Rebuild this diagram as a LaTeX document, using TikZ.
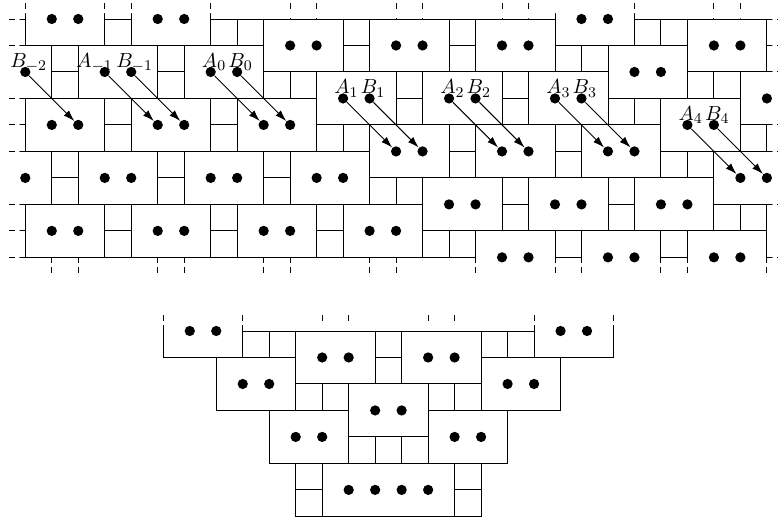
\documentclass[tikz,border=0pt]{standalone}
\usetikzlibrary{arrows.meta}
\begin{document}
\begin{tikzpicture}[x=0.5cm,y=-0.5cm,line width=0.5pt]
\tikzstyle{dot}=[circle,fill,inner sep=0pt,minimum size=5.5pt]
\tikzstyle{lbl}=[anchor=base,inner sep=0pt,font=\fontsize{11}{13}\selectfont]
\tikzstyle{hop}=[-{Latex[length=6pt,width=4pt]}]
\useasboundingbox (-0.955,-0.717) rectangle (28.42,19.03);

\begin{scope}
\clip (-0.21,-0.21) -- (7.05,-0.21) -- (7.05,-0.02) -- (19.95,-0.02) -- (19.95,-0.21) -- (23.05,-0.21) -- (23.05,-0.02) -- (28.21,-0.02) -- (28.21,9.21) -- (-0.21,9.21) -- cycle;
\foreach \s/\pa/\pb in {-11/1/1,-7/1/1,-3/1/1,1/1/1,5/1/0,9/0/0,13/0/0,17/0/1,21/1/0,25/0/0} {
  \foreach \k in {-1,...,5} {
    \pgfmathtruncatemacro\j{2*\k-\pa}
    \pgfmathtruncatemacro\i{\s+\j}
    \pgfmathtruncatemacro\xa{\i+1}
    \pgfmathtruncatemacro\xb{\i+2}
    \pgfmathtruncatemacro\ya{\j+1}
    \draw (\i,\j) rectangle ++(3,2);
    \ifnum\pa=\pb
      \draw (\i+3,\j) rectangle ++(1,2) (\i+3,\ya) -- ++(1,0);
    \else
      \draw (\i+3,\ya) rectangle ++(2,1) (\i+4,\ya) -- ++(0,1);
    \fi
    \node[dot] (p\xa-\ya) at (\xa,\ya) {};
    \node[dot] (p\xb-\ya) at (\xb,\ya) {};
  }
}
\end{scope}

\foreach \i in {0,3,4,7,10,11,14,15,18,19,23,26,27} \draw (\i,-0.38) -- (\i,-0.6);
\foreach \i in {1,2,5,6,9,10,13,14,17,20,21,24,25,28} \draw (\i,9.38) -- (\i,9.6);
\foreach \j in {0,1,3,4,5,7,8,9} \draw (-0.38,\j) -- (-0.6,\j);
\foreach \j in {0,1,2,4,5,7,9} \draw (28.38,\j) -- (28.6,\j);

\foreach \n/\t/\dx in {p0-2/B_{-2}/1.8,p3-2/A_{-1}/-5.5,p4-2/B_{-1}/1.8,p7-2/A_0/1.8,p8-2/B_0/1.8,p12-3/A_1/1.8,p13-3/B_1/1.8,p16-3/A_2/1.8,p17-3/B_2/1.8,p20-3/A_3/1.8,p21-3/B_3/1.8,p25-4/A_4/1.8,p26-4/B_4/1.8}
  \node[lbl] (l\n) at ([xshift=\dx pt,yshift=2.4pt]\n) {$\t$};

\foreach \u/\v in {0-2/2-4,3-2/5-4,4-2/6-4,7-2/9-4,8-2/10-4,12-3/14-5,13-3/15-5,16-3/18-5,17-3/19-5,20-3/22-5,21-3/23-5,25-4/27-6,26-4/28-6}
  \draw[hop] (p\u) -- (p\v);

\begin{scope}[shift={(5.21,11.78)}]
\begin{scope}
\clip (-0.1,-0.21) rectangle (17.1,7.1);
\foreach \x/\y in {0/-1,5/0,9/0,14/-1,2/1,12/1,7/2,4/3,10/3} {
  \pgfmathtruncatemacro\xa{\x+1}
  \pgfmathtruncatemacro\xb{\x+2}
  \pgfmathtruncatemacro\ya{\y+1}
  \draw (\x,\y) rectangle ++(3,2);
  \node[dot] (q\xa-\ya) at (\xa,\ya) {};
  \node[dot] (q\xb-\ya) at (\xb,\ya) {};
}
\foreach \x/\y in {3/0,4/0,8/0,8/1,12/0,13/0,5/2,6/2,10/2,11/2,7/4,8/4,9/4,5/5,5/6,11/5,11/6}
  \draw (\x,\y) rectangle ++(1,1);
\draw (6,5) rectangle ++(5,2);
\foreach \x in {7,...,10} \node[dot] (q\x-6) at (\x,6) {};
\end{scope}
\foreach \x in {0,3,6,7,10,11,14,17} \draw (\x,-0.38) -- (\x,-0.6);
\end{scope}
\end{tikzpicture}
\end{document}
